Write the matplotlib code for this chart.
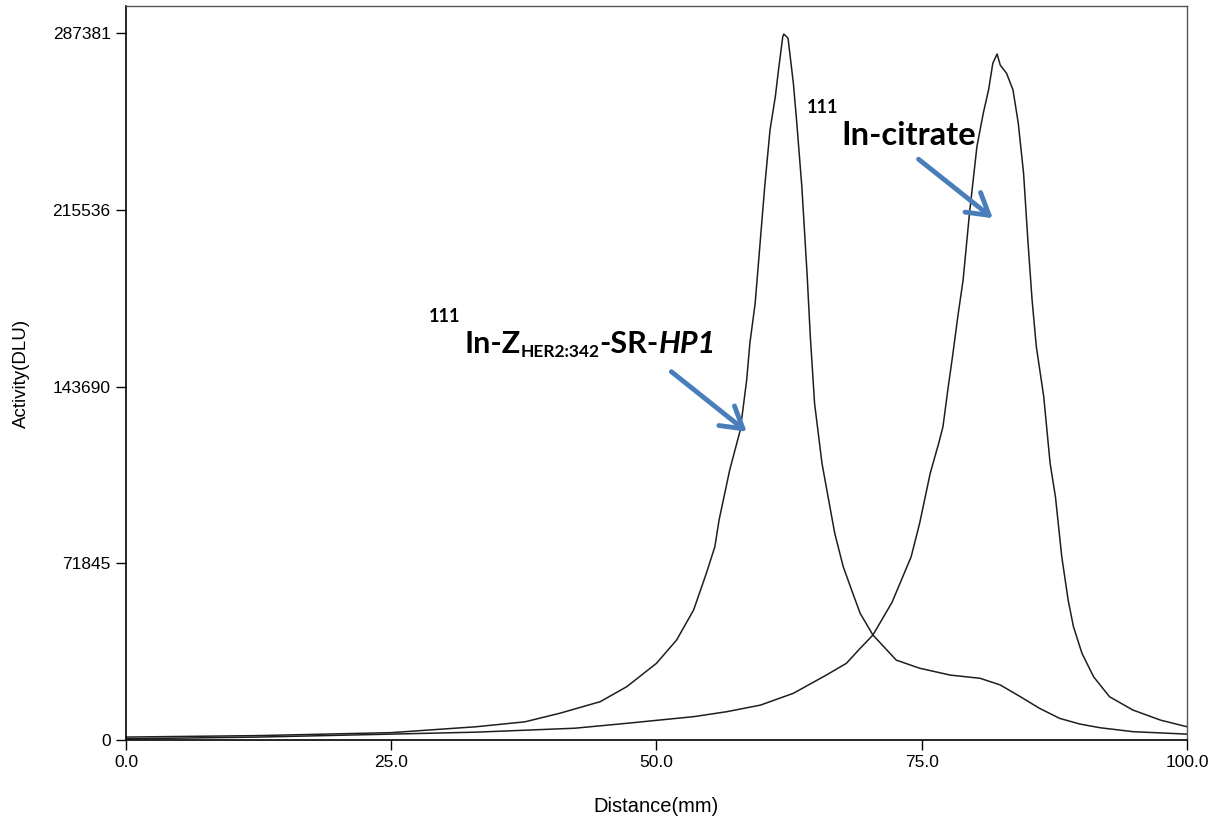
import matplotlib
matplotlib.use("Agg")
import matplotlib.pyplot as plt

# radio-TLC scan: activity along the strip
dist_hp1 = [0, 12.5, 25, 33, 37.6, 40.9, 44.7, 47.2, 50.0, 51.9, 53.5, 54.7, 55.5, 55.9,
            56.9, 57.9, 58.5, 58.8, 59.3, 60.2, 60.7, 61.2, 61.5, 61.9, 62.0, 62.4, 62.9,
            63.2, 63.7, 64.2, 64.5, 64.9, 65.6, 66.0, 66.8, 67.6, 68.5, 69.2, 70.4, 72.6,
            74.8, 77.7, 80.5, 82.4, 84.3, 86.1, 88.0, 89.9, 91.8, 94.9, 100]
act_hp1 = [1200, 1800, 3000, 5400, 7400, 10900, 15600, 21700, 31200, 40700, 52900, 67800,
           78600, 89500, 109800, 126100, 146400, 161300, 177600, 225000, 248100, 261600,
           272500, 286000, 287100, 285400, 267100, 252200, 225000, 189000, 164000, 136900,
           112500, 103000, 84100, 70500, 59700, 51500, 42700, 32500, 29200, 26400, 25100,
           22400, 17600, 12900, 8800, 6500, 5000, 3400, 2400]

dist_cit = [0, 12.5, 25, 33, 42.3, 47.2, 53.5, 56.6, 59.8, 62.9, 66.0, 67.9, 69.2, 70.4,
            72.2, 74.0, 74.8, 75.8, 76.6, 77.0, 77.5, 77.9, 78.4, 78.9, 79.5, 80.2, 80.8,
            81.3, 81.7, 82.1, 82.4, 83.0, 83.6, 84.1, 84.6, 85.0, 85.4, 85.8, 86.5, 87.1,
            87.6, 88.2, 88.8, 89.3, 90.1, 91.2, 92.7, 94.9, 97.5, 100]
act_cit = [500, 1200, 2400, 3200, 4800, 6800, 9500, 11500, 14200, 19000, 26400, 31200,
           37300, 42700, 56000, 74500, 88100, 108500, 120700, 127400, 143700, 155900,
           172200, 187100, 214200, 241300, 254900, 264400, 275200, 279000, 274500, 271100,
           264400, 250800, 230400, 203400, 179000, 160000, 139600, 112500, 99000, 74500,
           56900, 46100, 35300, 25700, 17600, 12200, 8100, 5400]

x_ticks = [0, 25, 50, 75, 100]
y_ticks = [0, 71845, 143690, 215536, 287381]

fig = plt.figure(figsize=(12.08, 8.25), dpi=100)
ax = fig.add_axes([0.1043, 0.103, 0.8783, 0.8897])

ax.plot(dist_hp1, act_hp1, color="#1e1e1e", lw=1.1)
ax.plot(dist_cit, act_cit, color="#1e1e1e", lw=1.1)

ax.set_xlim(0, 100)
ax.set_ylim(0, 298500)
ax.set_xticks(x_ticks)
ax.set_xticklabels(["{:.1f}".format(v) for v in x_ticks])
ax.set_yticks(y_ticks)
ax.set_yticklabels([str(v) for v in y_ticks])
ax.tick_params(direction="out", length=7, width=1, pad=4, labelsize=12.5,
               labelfontfamily="Liberation Sans")
for s in ["left", "bottom"]:
    ax.spines[s].set_linewidth(1.2)
for s in ["top", "right"]:
    ax.spines[s].set_linewidth(1.0)
    ax.spines[s].set_color("#555555")

ax.set_xlabel("Distance(mm)", family="Liberation Sans", fontsize=14.5, labelpad=19)
ax.set_ylabel("Activity(DLU)", family="Liberation Sans", fontsize=13.5, labelpad=16)

fig.canvas.draw()
renderer = fig.canvas.get_renderer()


def chain(x, y, pieces):
    # write text pieces one after another, each with its own baseline offset
    for txt, size, style, dy in pieces:
        t = ax.text(x, y + dy, txt, fontsize=size, fontweight="bold", fontstyle=style,
                    family="Lato", ha="left", va="baseline", color="black")
        bb = t.get_window_extent(renderer)
        x = ax.transData.inverted().transform((bb.x1, bb.y0))[0]


# labels for the two peaks
ax.text(28.5, 170000, "111", fontsize=13, fontweight="bold", family="Lato", va="baseline")
chain(31.9, 157400, [("In-Z", 22, "normal", 0),
                     ("HER2:342", 12.5, "normal", -1500),
                     ("-SR-", 22, "normal", 0),
                     ("HP1", 22, "italic", 0)])
ax.text(64.2, 254900, "111", fontsize=13, fontweight="bold", family="Lato", va="baseline")
ax.text(67.4, 242000, "In-citrate", fontsize=23.5, fontweight="bold", family="Lato",
        va="baseline")

arrow = dict(arrowstyle="->,head_length=0.75,head_width=0.45", lw=3.5, color="#4a7ebb",
             mutation_scale=20, shrinkA=0, shrinkB=0)
ax.annotate("", xy=(58.5, 125400), xytext=(51.4, 149800), arrowprops=arrow)
ax.annotate("", xy=(81.7, 212200), xytext=(74.7, 236200), arrowprops=arrow)

fig.savefig("out.png", dpi=100)
